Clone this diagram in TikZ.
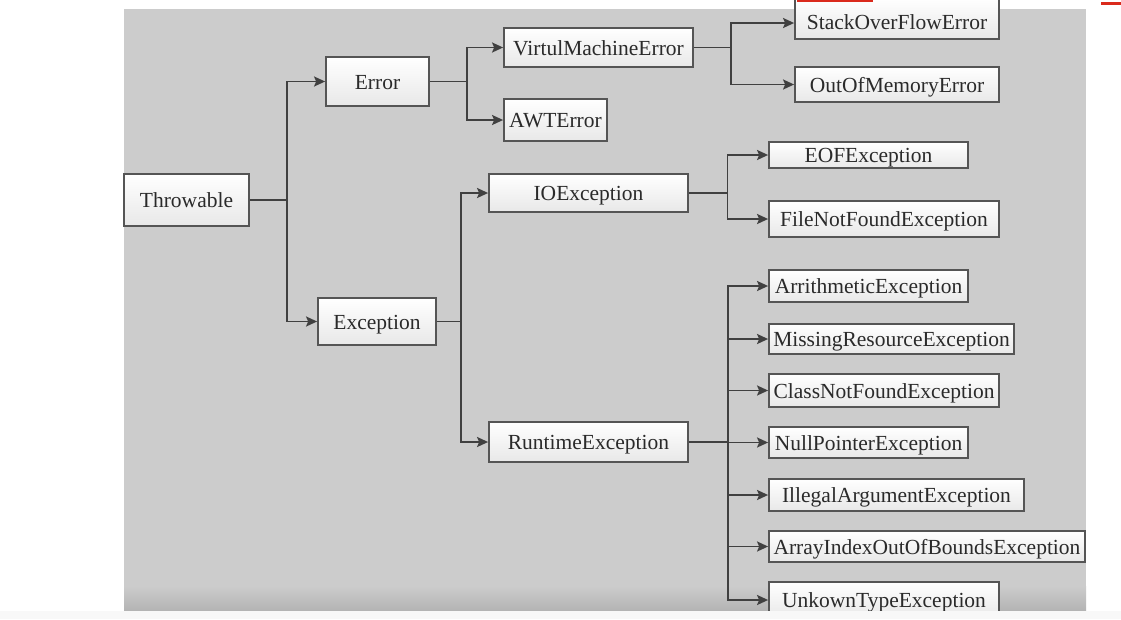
\documentclass[tikz,border=0pt]{standalone}
\usepackage{fontspec}
\setmainfont{Liberation Serif}
\usetikzlibrary{arrows.meta}
\definecolor{bggray}{HTML}{CCCCCC}
\definecolor{bgdark}{HTML}{B3B3B3}
\definecolor{linecol}{HTML}{404040}
\definecolor{boxline}{HTML}{555555}
\definecolor{txtcol}{HTML}{2A2A2A}
\definecolor{stripcol}{HTML}{F8F8F8}
\definecolor{redmark}{HTML}{DA2A1C}
\begin{document}
\begin{tikzpicture}[x=1pt,y=-1pt,
  cls/.style={draw=boxline, line width=1.8pt, top color=white, bottom color=black!9,
    inner sep=0pt, text height=19pt, text depth=4pt,
    font=\fontsize{21.5}{24}\selectfont, text=txtcol},
  conn/.style={draw=linecol, line width=1.8pt},
  arr/.style={conn, -{Stealth[length=11pt,width=10pt,inset=2pt]}}]
\useasboundingbox (0,0) rectangle (1121,619);
\fill[white] (0,0) rectangle (1121,619);
\fill[bggray] (124,9) rectangle (1086,611);
\shade[top color=bggray, bottom color=bgdark] (124,586) rectangle (1086,611);
\begin{scope}
\clip (0,0) rectangle (1121,611);
% nodes
\node[cls, minimum width=125pt, minimum height=52pt] (thr) at (186.5,200) {Throwable};
\node[cls, minimum width=103pt, minimum height=49pt] (err) at (377.5,81.5) {Error};
\node[cls, minimum width=118pt, minimum height=47pt] (exc) at (377,321.5) {Exception};
\node[cls, minimum width=189pt, minimum height=39pt] (vme) at (598.5,47.5) {VirtulMachineError};
\node[cls, minimum width=103pt, minimum height=42pt] (awt) at (555.5,120) {AWTError};
\node[cls, minimum width=204pt, minimum height=41pt, text height=25pt, text depth=4pt] (sof) at (897,18.5) {StackOverFlowError};
\node[cls, minimum width=204pt, minimum height=35pt] (oom) at (897,84.5) {OutOfMemoryError};
\node[cls, minimum width=199pt, minimum height=38pt] (ioe) at (588.5,193) {IOException};
\node[cls, minimum width=199pt, minimum height=26pt] (eof) at (868.5,155) {EOFException};
\node[cls, minimum width=230pt, minimum height=36pt] (fnf) at (884,219) {FileNotFoundException};
\node[cls, minimum width=199pt, minimum height=40pt] (rte) at (588.5,442) {RuntimeException};
\node[cls, minimum width=199pt, minimum height=32pt] (ari) at (868.5,286) {ArrithmeticException};
\node[cls, minimum width=245pt, minimum height=30pt] (mis) at (891.5,339) {MissingResourceException};
\node[cls, minimum width=230pt, minimum height=33pt] (cnf) at (884,390.5) {ClassNotFoundException};
\node[cls, minimum width=199pt, minimum height=31pt] (npe) at (868.5,442.5) {NullPointerException};
\node[cls, minimum width=255pt, minimum height=32pt] (iae) at (896.5,495) {IllegalArgumentException};
\node[cls, minimum width=316pt, minimum height=31pt] (aio) at (927,546.5) {ArrayIndexOutOfBoundsException};
\node[cls, minimum width=230pt, minimum height=36pt] (unk) at (884,600) {UnkownTypeException};
% connectors
\draw[conn] (thr.east) -- ++(37,0) coordinate (tb);
\draw[arr] (tb) |- (err.west);
\draw[arr] (tb) |- (exc.west);
\draw[conn] (err.east) -- ++(37,0) coordinate (eb);
\draw[arr] (eb) |- (vme.west);
\draw[arr] (eb) |- (awt.west);
\draw[conn] (vme.east) -- ++(37,0) coordinate (vb);
\draw[arr] (vb) |- ([yshift=-4.5pt]sof.west);
\draw[arr] (vb) |- (oom.west);
\draw[conn] (exc.east) -- ++(24,0) coordinate (xb);
\draw[arr] (xb) |- (ioe.west);
\draw[arr] (xb) |- (rte.west);
\draw[conn] (ioe.east) -- ++(38.5,0) coordinate (ib);
\draw[arr] (ib) |- (eof.west);
\draw[arr] (ib) |- (fnf.west);
\draw[conn] (rte.east) -- ++(39,0) coordinate (rb);
\draw[arr] (rb) |- (ari.west);
\draw[arr] (rb) |- (mis.west);
\draw[arr] (rb) |- (cnf.west);
\draw[arr] (rb) |- (npe.west);
\draw[arr] (rb) |- (iae.west);
\draw[arr] (rb) |- (aio.west);
\draw[arr] (rb) |- (unk.west);
\end{scope}
\fill[stripcol] (0,611) rectangle (1121,619);
\fill[redmark] (797,0) rectangle (873,1.5);
\fill[redmark] (1101,1.5) rectangle (1121,5);
\end{tikzpicture}
\end{document}
